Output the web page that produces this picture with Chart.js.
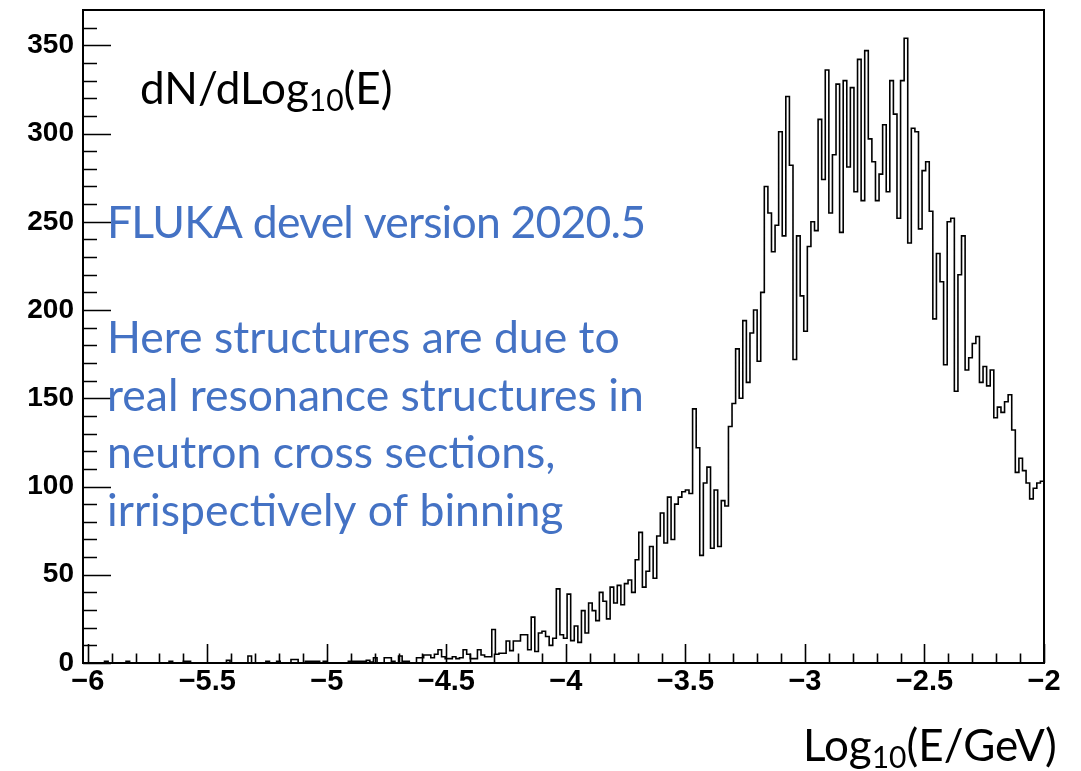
<!DOCTYPE html>
<html>
<head>
<meta charset="utf-8">
<script src="https://cdn.jsdelivr.net/npm/chart.js@4.4.1/dist/chart.umd.min.js"></script>
<style>
  html, body { margin: 0; padding: 0; background: #ffffff; }
  canvas { display: block; }
</style>
</head>
<body>
<canvas id="spectrum" width="1081" height="771"></canvas>
<script>
// Binning of the neutron energy histogram, in log10(E/GeV)
const histLow = -6.02;
const binWidth = 0.015;

// dN/dLog10(E) content of each bin (268 bins, -6.02 ... -2)
const counts = [
  0, 0, 0, 0, 0, 0, 1, 0, 0, 0,
  0, 0, 1, 0, 0, 0, 0, 0, 0, 0,
  0, 0, 0, 0, 1, 0, 0, 0, 1, 1,
  0, 0, 0, 0, 0, 0, 0, 0, 0, 0,
  1.5, 0, 0, 0, 0, 0, 4, 0, 0, 0,
  0, 1, 0, 0, 1, 0, 0, 0, 2, 2,
  0, 0, 1, 1, 1, 1, 0, 1, 0, 0,
  0, 0, 0, 0, 1, 1, 1, 1, 1, 1.5,
  0.5, 3, 0, 0, 3, 3, 1, 0, 4, 1,
  1, 0, 0, 3, 3, 4.5, 4.5, 3, 5, 7.5,
  3.5, 2.5, 2.5, 3.5, 2.5, 3, 7.5, 5, 2.5, 2.5,
  7.5, 4.5, 3.5, 3.5, 19, 5, 5.5, 5.5, 12.5, 7,
  12.5, 12.5, 16, 16, 7.5, 26, 6.5, 17, 18, 15,
  10, 14, 42, 16, 14, 39, 12.7, 21, 11.7, 29.7,
  17, 34, 29.7, 24, 40, 35, 25, 43, 34, 44,
  33, 45, 47, 40, 58.5, 74, 43, 52, 66, 48,
  72, 85, 68, 94, 70, 90, 94, 97, 98, 96,
  144, 122, 61, 102, 111, 65, 98, 66, 92, 89,
  134, 147, 178, 150, 194, 159, 187, 200, 171, 210,
  270, 255, 233, 248, 301, 242, 321, 282, 172, 242,
  208, 188, 236, 250, 245, 308, 274, 336, 255, 288,
  328, 244, 330, 281, 326, 267, 342, 262, 347, 297,
  284, 262, 277, 305, 267, 330, 311, 252, 330, 354,
  238, 303, 301, 246, 279, 284, 256, 195, 232, 216,
  169, 250, 252, 154, 220, 242, 166, 173, 181, 185,
  159, 168, 157, 166, 139, 145, 142, 148, 152, 132,
  108, 116, 109, 102, 93, 99, 102, 103
];

// Axis ranges and labelled ticks
const xRange = [-6.02, -2];
const yRange = [0, 370];
const xMajorTicks = [-6, -5.5, -5, -4.5, -4, -3.5, -3, -2.5, -2];
const yMajorTicks = [0, 50, 100, 150, 200, 250, 300, 350];
const xMinorStep = 0.1;
const yMinorStep = 10;

// Text drawn on the pad
const yTitle = ['dN/dLog', '10', '(E)'];
const xTitle = ['Log', '10', '(E/GeV)'];
const noteTitle = 'FLUKA devel version 2020.5';
const noteLines = [
  'Here structures are due to',
  'real resonance structures in',
  'neutron cross sections,',
  'irrispectively of binning'
];

// Outline points at bin low edges, closed at the upper edge of the last bin
const outline = counts.map((v, i) => ({ x: histLow + i * binWidth, y: v }));
outline.push({ x: histLow + counts.length * binWidth, y: counts[counts.length - 1] });

const MINUS = '\u2212';
const fmt = v => (v < 0 ? MINUS + String(Math.abs(v)) : String(v));

const TEXT_FONT = 'Lato, "Open Sans", sans-serif';
const NOTE_BLUE = '#4472c4';
const TEXT_SIZE = 44;
const NOTE_SIZE = 44.5;

// Frame and inward-pointing tick marks, ROOT style
const frameTicks = {
  id: 'frameTicks',
  afterDatasetsDraw(chart) {
    const { ctx, chartArea: a, scales: { x, y } } = chart;
    ctx.save();
    ctx.strokeStyle = '#000';
    ctx.lineWidth = 1.6;
    ctx.beginPath();
    // x ticks: major every 0.5, minor every 0.1
    const nx = Math.round((xMajorTicks[xMajorTicks.length - 1] - xMajorTicks[0]) / xMinorStep);
    for (let k = 0; k <= nx; k++) {
      const v = xMajorTicks[0] + k * xMinorStep;
      const major = xMajorTicks.some(t => Math.abs(t - v) < 1e-6);
      const px = Math.round(x.getPixelForValue(v)) + 0.5;
      const len = major ? 19 : 9.5;
      ctx.moveTo(px, a.bottom);
      ctx.lineTo(px, a.bottom - len);
    }
    // y ticks: major every 50, minor every 10
    for (let v = yRange[0]; v < yRange[1]; v += yMinorStep) {
      const major = yMajorTicks.includes(v);
      const py = Math.round(y.getPixelForValue(v)) + 0.5;
      const len = major ? 28 : 14;
      ctx.moveTo(a.left, py);
      ctx.lineTo(a.left + len, py);
    }
    ctx.stroke();
    ctx.lineWidth = 2;
    ctx.strokeRect(a.left, a.top, a.right - a.left, a.bottom - a.top);
    ctx.restore();
  }
};

// Titles and notes written on the pad
function drawSubscripted(ctx, parts, x, baseline, size) {
  ctx.font = `${size}px ${TEXT_FONT}`;
  ctx.fillText(parts[0], x, baseline);
  x += ctx.measureText(parts[0]).width;
  const sub = Math.round(size * 0.68);
  ctx.font = `${sub}px ${TEXT_FONT}`;
  ctx.fillText(parts[1], x, baseline + size * 0.16);
  x += ctx.measureText(parts[1]).width;
  ctx.font = `${size}px ${TEXT_FONT}`;
  ctx.fillText(parts[2], x, baseline);
}

const padText = {
  id: 'padText',
  afterDraw(chart) {
    const { ctx } = chart;
    ctx.save();
    ctx.textAlign = 'left';
    ctx.textBaseline = 'alphabetic';
    ctx.fillStyle = '#000';
    drawSubscripted(ctx, yTitle, 140, 104, TEXT_SIZE);
    drawSubscripted(ctx, xTitle, 803, 761, TEXT_SIZE);
    ctx.fillStyle = NOTE_BLUE;
    ctx.font = `${NOTE_SIZE}px ${TEXT_FONT}`;
    ctx.letterSpacing = '-0.8px';
    ctx.fillText(noteTitle, 107, 238);
    ctx.letterSpacing = '0px';
    noteLines.forEach((line, i) => ctx.fillText(line, 107, 353 + i * 57.7));
    ctx.restore();
  }
};

// Pin the frame: the axes keep a fixed thickness and add no overhang padding
function pinY(s) { s.width = 83; s.paddingTop = 0; s.paddingBottom = 0; }
function pinX(s) { s.height = 108; s.paddingLeft = 0; s.paddingRight = 0; }

new Chart(document.getElementById('spectrum'), {
  type: 'line',
  data: {
    datasets: [{
      data: outline,
      stepped: 'before',
      borderColor: '#000',
      borderWidth: 1.6,
      pointRadius: 0,
      fill: false,
      tension: 0
    }]
  },
  options: {
    responsive: false,
    devicePixelRatio: 1,
    animation: false,
    events: [],
    layout: { padding: { left: 0, top: 10, right: 37, bottom: 0 } },
    plugins: { legend: { display: false }, tooltip: { enabled: false } },
    scales: {
      x: {
        type: 'linear',
        min: xRange[0],
        max: xRange[1],
        afterBuildTicks: s => { s.ticks = xMajorTicks.map(v => ({ value: v })); },
        afterFit: pinX,
        grid: { display: false, drawTicks: false },
        border: { display: false },
        ticks: {
          autoSkip: false, maxRotation: 0, minRotation: 0,
          padding: 2, color: '#000',
          font: { family: 'Liberation Sans', size: 29, weight: 'bold' },
          callback: v => fmt(v)
        }
      },
      y: {
        type: 'linear',
        min: yRange[0],
        max: yRange[1],
        afterBuildTicks: s => { s.ticks = yMajorTicks.map(v => ({ value: v })); },
        afterFit: pinY,
        grid: { display: false, drawTicks: false },
        border: { display: false },
        ticks: {
          autoSkip: false,
          padding: 9, color: '#000',
          font: { family: 'Liberation Sans', size: 28, weight: 'bold' },
          callback: v => fmt(v)
        }
      }
    }
  },
  plugins: [frameTicks, padText]
});
</script>
</body>
</html>
